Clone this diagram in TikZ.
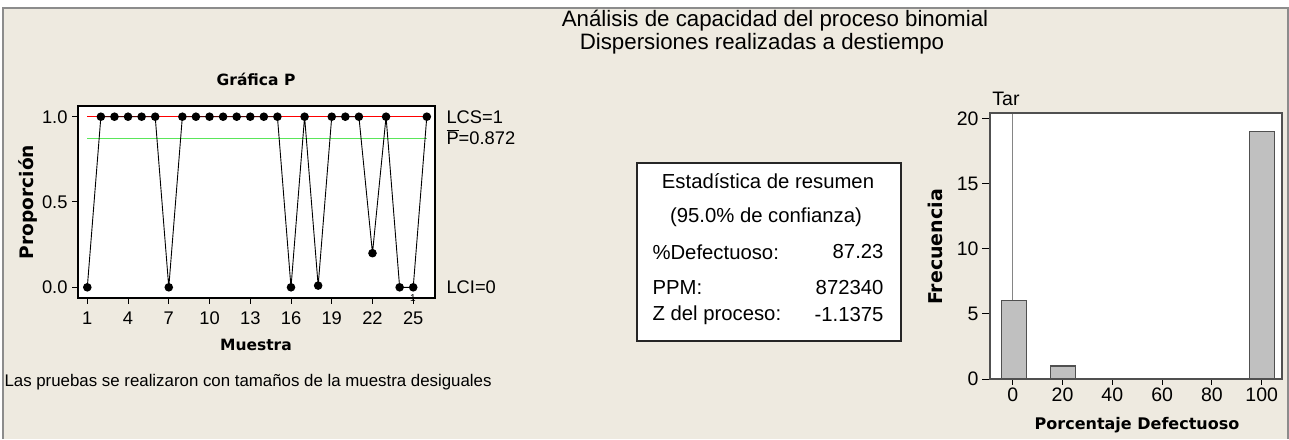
\documentclass[tikz,border=0pt]{standalone}
\usepackage{fontspec}
\setmainfont{Liberation Sans}
\newfontfamily\axisfont{DejaVu Sans}
\definecolor{panel}{RGB}{238,234,224}
\definecolor{edgegray}{RGB}{140,140,140}
\definecolor{barfill}{RGB}{192,192,192}
\definecolor{baredge}{RGB}{80,80,80}
\definecolor{limred}{RGB}{255,0,0}
\definecolor{centgreen}{RGB}{90,230,90}
\begin{document}
\begin{tikzpicture}[x=1pt,y=-1pt,
	plottick/.style={font=\fontsize{18.3}{18}\selectfont},
	histtick/.style={font=\fontsize{19.5}{20}\selectfont},
	boxtext/.style={font=\fontsize{20.3}{20}\selectfont},
	axislab/.style={font=\axisfont\bfseries\fontsize{#1}{#1}\selectfont},
	dataline/.style={black,line width=0.9pt},
	databar/.style={fill=barfill,draw=baredge,line width=1.2pt}]
	\useasboundingbox (0,0) rectangle (1289,439);
	% panel
	\fill[white] (0,0) rectangle (1289,439);
	\fill[panel] (3,8) rectangle (1288,439);
	\draw[edgegray,line width=1.5pt] (3,439) -- (3,8) -- (1288,8) -- (1288,439);
	\node (title1) at (775,21) {\fontsize{22.3}{22}\selectfont An\'alisis de capacidad del proceso binomial};
	\node (title2) at (762,44) {\fontsize{22.3}{22}\selectfont Dispersiones realizadas a destiempo};
	\node[anchor=west] (note) at (1,382) {\fontsize{16.85}{17}\selectfont Las pruebas se realizaron con tama\~nos de la muestra desiguales};
	% P chart
	\fill[white] (78,106) rectangle (435,298);
	\draw[limred,line width=0.9pt] (87.3,116.7) -- (426.7,116.7);
	\draw[centgreen,line width=1.2pt] (87.3,138.5) -- (426.7,138.5);
	\begin{scope}[shift={(73.72,287.3)},x=13.58pt,y=170.6pt]
		\draw[dataline] plot coordinates {(1,0) (2,1) (3,1) (4,1) (5,1) (6,1) (7,0) (8,1) (9,1) (10,1) (11,1) (12,1) (13,1) (14,1) (15,1) (16,0) (17,1) (18,0.01) (19,1) (20,1) (21,1) (22,0.2) (23,1) (24,0) (25,0) (26,1)};
		\foreach \i/\p in {1/0,2/1,3/1,4/1,5/1,6/1,7/0,8/1,9/1,10/1,11/1,12/1,13/1,14/1,15/1,16/0,17/1,18/0.01,19/1,20/1,21/1,22/0.2,23/1,24/0,25/0,26/1}
			\fill (\i,\p) circle (4.3pt);
	\end{scope}
	\draw[black,line width=1.3pt] (78,106) rectangle (435,298);
	\foreach \v/\y in {1.0/116.7,0.5/201.7,0.0/287.3} {
		\draw[line width=1pt] (72,\y) -- (78,\y);
		\node[plottick,anchor=east] (pt\v) at (71,\y) {\v};
	}
	\foreach \i in {1,4,...,25} {
		\draw[line width=1pt] ({87.3+(\i-1)*13.58},298) -- ({87.3+(\i-1)*13.58},304);
		\node[plottick] (mt\i) at ({87.3+(\i-1)*13.58},318) {\i};
	}
	\node[font=\fontsize{10}{10}\selectfont] (flag) at (413,298) {1};
	\node[axislab=15.5] (ptitle) at (256,79) {Gr\'afica P};
	\node[axislab=15.5] (pxlab) at (256,345) {Muestra};
	\node[axislab=18.6,rotate=90] (pylab) at (28,202) {Proporci\'on};
	\node[plottick,anchor=west] (lcs) at (443,116.7) {LCS=1};
	\node[plottick,anchor=west] (pbar) at (443,137) {$\overline{\hbox{P}}$=0.872};
	\node[plottick,anchor=west] (lci) at (443,287.3) {LCI=0};
	% summary
	\draw[fill=white,draw=black!85,line width=1.2pt] (637,163) rectangle (901,341);
	\node[boxtext] (s1) at (768,181) {Estad\'istica de resumen};
	\node[boxtext] (s2) at (766,217) {(95.0\% de confianza)};
	\node[boxtext,anchor=west] (s3) at (649,252) {\%Defectuoso:};
	\node[boxtext,anchor=east] (s3v) at (887,252) {87.23};
	\node[boxtext,anchor=west] (s4) at (649,288) {PPM:};
	\node[boxtext,anchor=east] (s4v) at (887,288) {872340};
	\node[boxtext,anchor=west] (s5) at (649,315) {Z del proceso:};
	\node[boxtext,anchor=east] (s5v) at (887,315) {-1.1375};
	% histogram
	\fill[white] (990,113) rectangle (1282,379);
	\begin{scope}[shift={(1012.7,379)},x=2.49pt,y=13.03pt]
		\draw[baredge!70,line width=1.3pt] (0,6) -- (0,20.4);
		\draw[databar] (-4.6,0) rectangle (5.4,6);
		\draw[databar] (15.2,0) rectangle (25.2,1);
		\draw[databar] (95,0) rectangle (105,19);
		\foreach \f in {0,5,...,20} {
			\draw[line width=1pt] (-9.1,\f) -- (-12.3,\f);
			\node[histtick,anchor=east] (ft\f) at (-12.3,\f) {\f};
		}
		\foreach \v in {0,20,...,100} {
			\draw[line width=1pt] (\v,0) -- (\v,-0.45);
			\node[histtick] (dt\v) at (\v,-1.2) {\v};
		}
	\end{scope}
	\draw[baredge,line width=1.3pt] (990,113) rectangle (1282,379);
	\node[histtick] (tar) at (1006,99) {Tar};
	\node[axislab=19,rotate=90] (hylab) at (935,247) {Frecuencia};
	\node[axislab=16] (hxlab) at (1137,425) {Porcentaje Defectuoso};
\end{tikzpicture}
\end{document}
